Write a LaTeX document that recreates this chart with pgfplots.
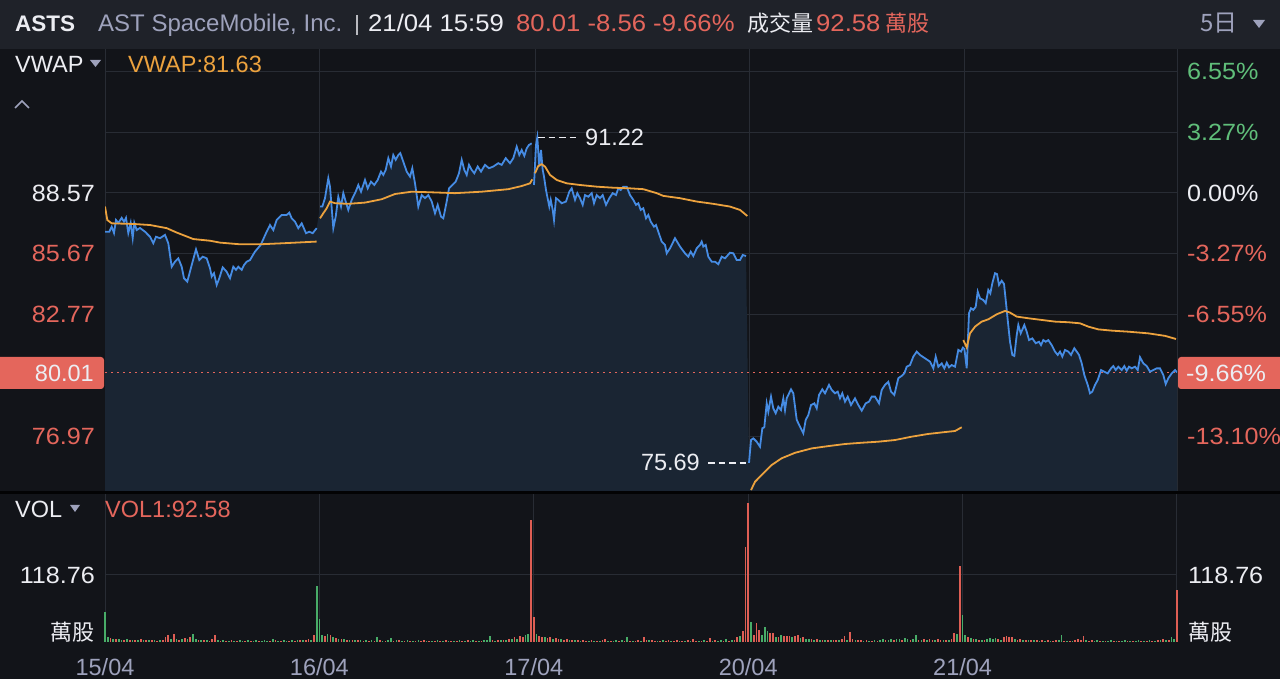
\documentclass[border=0pt]{standalone}
\usepackage{pgfplots}
\pgfplotsset{compat=1.18}
\usepackage{pgfplotstable}
\usepackage{fontspec}
\setmainfont{Liberation Sans}
\newfontfamily\numfont{Liberation Sans}[FakeStretch=1.07]
\newfontfamily\cjk{Noto Sans CJK TC}
\definecolor{bgcol}{RGB}{18,20,25}
\definecolor{hdrcol}{RGB}{31,34,41}
\definecolor{gridcol}{RGB}{40,44,52}
\definecolor{linecol}{RGB}{70,140,228}
\definecolor{fillcol}{RGB}{26,37,51}
\definecolor{vwapcol}{RGB}{236,162,62}
\definecolor{upcol}{RGB}{96,190,122}
\definecolor{dncol}{RGB}{228,102,92}
\definecolor{txtcol}{RGB}{236,237,242}
\definecolor{graycol}{RGB}{158,162,188}
\definecolor{volup}{RGB}{72,172,104}
\definecolor{voldn}{RGB}{222,94,84}
\newcommand\fs{\fontsize{23.5bp}{28bp}\selectfont}
\newcommand\hs{\fontsize{24bp}{28bp}\selectfont}
\newcommand\cs{\fontsize{22bp}{26bp}\selectfont}

\pgfplotstableread{
t p
0 86.72
4.3 86.72
6.7 86.96
9 86.66
11 87.28
13.3 87.14
16.7 87.38
19 87.20
21 87.38
23.3 86.66
25.7 87.14
27.7 86.42
29.3 87.14
31.7 86.80
35 86.90
40 86.72
45 86.48
48.3 86.17
51 86.48
55 86.41
60 86.57
63.3 86.17
66.7 85.05
70 85.29
73.3 85.45
76.7 85.05
79 84.50
82.3 84.34
86.7 85.13
91 85.88
94.3 85.37
97.7 85.53
101.7 85.45
105 84.98
106.7 84.58
109 84.74
111.7 84.18
114.3 84.50
117.7 85.02
121.7 84.81
125 84.50
128.3 85.05
131 84.90
133.3 85.05
136.7 84.90
139 85.13
141.7 85.29
145 85.37
150 85.77
155.7 86.09
161 86.65
165 87.04
168.3 86.80
171.7 87.28
176.7 87.52
181.7 87.52
184.3 87.63
186.7 87.36
190 87.20
193.3 86.89
196.7 87.12
201 86.65
204.3 86.72
207.7 86.65
211.7 86.89
213 nan
215 87.92
217.3 87.92
220 88.32
223.3 89.27
225 88.87
228.3 86.89
230.7 87.44
233.3 88.39
236 87.92
238.3 88.56
240.7 88.16
243.3 87.76
246.7 88.24
250.7 88.63
253.3 88.95
256 88.63
260 89.19
262.7 88.79
266 89.11
269.3 88.95
272.7 89.19
276 89.59
278.3 89.43
280.7 89.67
283.3 90.23
286 89.83
288.3 90.38
290.7 90.15
293.3 90.38
295.3 90.47
298.3 90.06
301.7 89.59
305 89.35
307.3 89.75
310 89.03
313.3 87.92
316.7 88.47
320 88.32
323.3 88.47
326.7 88.16
330 87.60
332.7 88.00
336 87.44
338.3 87.36
341.7 88.16
344 88.79
347.3 88.95
350.7 89.11
354 89.51
356.7 90.15
359.3 89.67
361.7 89.43
364 89.91
366.7 89.67
369.3 89.51
372.7 89.83
376 89.59
380 89.91
384 89.75
388.3 89.83
393.3 89.99
396.7 89.91
400.7 90.23
405 89.99
408.3 90.23
411.7 90.78
414.3 90.38
416.7 90.62
419.3 90.34
421.7 90.70
424 90.86
426.7 90.94
428 nan
429 88.95
431 90.86
432.3 91.22
434.3 89.83
436 90.62
437.7 89.67
439 89.35
441 88.71
442.3 88.39
444.3 87.92
445.7 88.24
447.7 87.76
449 87.28
451 88.32
453.3 88.24
456.7 88.08
461 88.16
464.3 88.63
466.7 88.79
470 88.24
472.3 88.56
475 88.32
477.7 88.00
480 88.47
483.3 88.39
486.7 88.56
489 88.08
491.7 88.47
495 88.32
497.7 88.47
501 88.00
504.3 88.32
507.7 88.56
511 88.47
513.3 88.79
515.7 88.71
518.3 88.87
521.7 88.87
525 88.47
528.3 88.24
531 88.00
533.3 88.08
535.7 87.76
538.3 87.84
541 87.36
543.3 87.52
545.7 87.20
549 86.96
551 87.04
553.3 86.72
556.7 86.25
560 86.09
561.7 85.69
565 85.93
570 86.41
575 86.01
580 85.69
583.3 85.53
585.7 85.77
588.3 85.56
591.7 85.93
595 86.09
596.7 86.25
598.3 86.01
600.7 86.09
603.3 85.53
606.7 85.29
610 85.29
613.3 85.17
616.7 85.53
620 85.45
625 85.72
628.3 85.69
631.7 85.37
635 85.37
637.7 85.61
641 85.56
642.5 nan
644 75.69
646 76.78
648.3 76.86
651.7 76.70
655 76.46
657.3 77.34
659.3 77.39
661.7 78.53
663.3 78.13
666 78.85
668.3 78.29
670.7 78.06
673.3 78.37
676 78.21
678.3 78.77
680 78.21
681.7 78.77
683.3 78.93
686 79.20
688.3 79.01
691.7 77.74
695 77.42
698.3 77.10
700.7 77.74
703.3 77.97
706 78.45
709.3 78.53
711.7 78.29
714 78.93
717.3 79.20
720 79.01
724 79.41
726.7 79.17
730 79.01
732.7 79.09
735 78.77
737.3 79.01
740 78.61
742.7 78.85
746 78.45
750 78.77
753.3 78.45
756.7 78.18
760.7 78.53
764 78.61
766.7 78.85
770 78.85
774 78.53
776.7 79.17
780 79.41
783.3 79.56
786 79.09
789.3 78.93
793.3 79.73
796.7 79.84
799.3 79.96
801.7 80.28
805 80.36
808.3 80.76
811.7 81.00
815 80.84
820 80.68
825 80.52
828.3 80.20
830.7 80.76
833.3 80.28
836.7 80.44
839.3 80.20
841.7 80.47
844 80.25
846.7 80.36
850 80.28
853.3 81.08
856 81.00
858.3 81.23
858.8 nan
859.3 81.16
861.7 80.20
864 82.83
866 83.07
868.3 82.99
870.7 83.14
872.7 83.86
875 83.54
878.3 83.46
880.7 83.31
883.3 83.94
885.3 83.78
887.3 84.26
890 84.74
892 84.70
894 84.18
896.7 84.38
899 84.23
900.7 83.46
902.7 82.51
905 81.47
907.3 80.84
909.3 80.79
911.7 81.79
913.3 82.27
915.7 81.87
919.3 82.27
921.7 81.95
924 81.55
927.3 81.63
930.7 81.40
934 81.47
936 81.31
938.3 81.55
940.7 81.47
943.3 81.55
946.7 81.31
950 81.00
952.7 80.84
955 81.00
957.3 80.76
960 81.08
963.3 81.00
966 80.84
969.3 81.16
971.7 81.00
974 80.84
976.7 80.44
979.3 79.88
982.7 79.41
985 79.01
987.3 79.09
990 79.41
992.7 79.64
996 80.12
999.3 80.04
1002.7 79.96
1006 80.20
1008.3 80.31
1010.7 80.12
1013.3 80.28
1016.7 80.12
1019.3 80.31
1021.7 80.09
1024 80.28
1026.7 80.20
1030 80.28
1032.7 80.12
1035 80.73
1038.3 80.44
1041.7 80.31
1045 80.04
1048.3 80.12
1051.7 80.20
1055 80.20
1058.3 79.88
1060.7 79.45
1063.3 79.73
1066.7 79.96
1070 80.12
1072 80.01
}\bluetab

\pgfplotstableread{
t v
0 87.92
2.3 87.28
6.7 87.12
28.3 87.09
45 87.04
61.7 86.89
71.7 86.68
88.3 86.37
105 86.29
115 86.20
135 86.12
155 86.12
178.3 86.17
211.7 86.25
213 nan
215 87.36
218.3 87.60
221.7 87.84
225 88.16
230 88.08
243.3 88.05
260 88.11
276.7 88.27
290 88.52
306.7 88.63
326.7 88.60
350 88.56
376.7 88.63
403.3 88.75
416.7 88.90
425 89.03
427.3 89.22
428.5 nan
430 89.51
433.3 89.86
436.7 89.94
440 89.83
445 89.43
451.7 89.19
461.7 89.03
475 88.95
491.7 88.87
508.3 88.82
525 88.79
538.3 88.75
551.7 88.56
558.3 88.43
575 88.32
591.7 88.16
608.3 88.05
625 87.92
635 87.76
642.3 87.47
643.5 nan
646 74.39
650 74.79
655 75.03
660 75.27
666.7 75.59
676.7 75.91
690 76.17
706.7 76.38
723.3 76.49
740 76.59
756.7 76.65
773.3 76.70
790 76.78
806.7 76.94
823.3 77.07
840 77.16
850 77.21
856.7 77.39
857.5 nan
858.3 81.55
861.7 81.20
865 81.87
870 82.19
876.7 82.43
883.3 82.54
891.7 82.78
900 82.94
905 82.86
911.7 82.67
923.3 82.59
936.7 82.51
950 82.43
963.3 82.40
975 82.35
983.3 82.19
993.3 82.06
1006.7 82.00
1023.3 81.95
1043.3 81.87
1060 81.75
1071 81.60
}\vwaptab

\pgfplotstableread[row sep=\\]{
k r g\\
0 0 53\\1 0 9\\2 7 0\\3 0 6\\4 5 0\\5 0 6\\6 0 4\\7 3 0\\8 0 5\\9 4 0\\
10 0 3\\11 4 0\\12 0 3\\13 5 0\\14 0 4\\15 3 0\\16 0 3\\17 4 0\\18 0 3\\19 2 0\\
20 0 3\\21 4 0\\22 8 0\\23 12 0\\24 0 6\\25 14 0\\26 0 5\\27 4 0\\28 0 6\\29 7 0\\
30 0 5\\31 9 0\\32 0 15\\33 0 5\\34 4 0\\35 0 3\\36 3 0\\37 0 4\\38 2 0\\39 5 0\\
40 12 0\\41 0 3\\42 2 0\\43 0 3\\44 2 0\\45 0 2\\46 3 0\\47 0 2\\48 2 0\\49 0 3\\
50 0 2\\51 2 0\\52 0 3\\53 2 0\\54 0 2\\55 0 3\\56 2 0\\57 0 2\\58 0 3\\59 0 2\\
60 2 0\\61 0 6\\62 3 0\\63 0 2\\64 2 0\\65 0 3\\66 0 2\\67 2 0\\68 0 3\\69 2 0\\
70 0 3\\71 3 0\\72 0 4\\73 3 0\\74 5 0\\75 0 4\\76 12 0\\77 0 99\\
78 0 41\\79 0 12\\80 10 0\\81 0 14\\82 12 0\\83 0 9\\84 7 0\\85 0 6\\86 5 0\\87 0 5\\
88 4 0\\89 0 4\\90 3 0\\91 0 3\\92 4 0\\93 0 3\\94 2 0\\95 0 3\\96 2 0\\97 0 3\\
98 2 0\\99 0 9\\100 3 0\\101 0 2\\102 2 0\\103 0 3\\104 0 7\\105 2 0\\106 0 3\\107 3 0\\
108 0 2\\109 2 0\\110 0 3\\111 2 0\\112 0 2\\113 2 0\\114 0 3\\115 2 0\\116 3 0\\117 0 2\\
118 2 0\\119 0 2\\120 2 0\\121 0 3\\122 2 0\\123 0 2\\124 3 0\\125 0 2\\126 2 0\\127 0 2\\
128 2 0\\129 0 3\\130 2 0\\131 0 2\\132 3 0\\133 0 2\\134 0 3\\135 2 0\\136 0 2\\137 2 0\\
138 0 3\\139 0 4\\140 0 10\\141 3 0\\142 0 2\\143 3 0\\144 0 3\\145 4 0\\146 0 4\\147 5 0\\
148 0 6\\149 8 0\\150 0 6\\151 10 0\\152 8 0\\153 0 12\\154 0 14\\155 216 0\\
156 44 0\\157 0 14\\158 10 0\\159 9 0\\160 0 8\\161 7 0\\162 8 0\\163 0 6\\164 7 0\\165 5 0\\
166 0 5\\167 4 0\\168 5 0\\169 0 3\\170 4 0\\171 0 3\\172 3 0\\173 0 2\\174 3 0\\175 2 0\\
176 0 2\\177 3 0\\178 0 2\\179 2 0\\180 0 2\\181 3 0\\182 6 0\\183 0 2\\184 2 0\\185 0 2\\
186 0 3\\187 2 0\\188 0 3\\189 2 0\\190 0 8\\191 2 0\\192 0 2\\193 2 0\\194 3 0\\195 0 2\\
196 8 0\\197 3 0\\198 0 3\\199 3 0\\200 2 0\\201 0 2\\202 2 0\\203 0 3\\204 2 0\\205 3 0\\
206 0 2\\207 2 0\\208 3 0\\209 0 2\\210 2 0\\211 0 2\\212 3 0\\213 0 2\\214 5 0\\215 2 0\\
216 0 2\\217 2 0\\218 0 3\\219 2 0\\220 7 0\\221 0 2\\222 3 0\\223 0 2\\224 0 3\\225 2 0\\
226 0 5\\227 2 0\\228 0 3\\229 3 0\\230 8 0\\231 0 10\\232 20 0\\233 168 0\\
234 246 0\\235 0 35\\236 12 0\\237 34 0\\238 21 0\\239 0 12\\240 0 26\\241 0 20\\242 16 0\\243 16 0\\
244 0 8\\245 9 0\\246 0 12\\247 10 0\\248 11 0\\249 10 0\\250 0 9\\251 11 0\\252 12 0\\253 0 7\\
254 8 0\\255 0 6\\256 0 6\\257 5 0\\258 0 4\\259 5 0\\260 0 4\\261 4 0\\262 0 3\\263 4 0\\
264 0 3\\265 3 0\\266 4 0\\267 0 3\\268 5 0\\269 10 0\\270 0 3\\271 17 0\\272 5 0\\273 0 3\\
274 3 0\\275 4 0\\276 0 2\\277 3 0\\278 0 2\\279 2 0\\280 0 3\\281 2 0\\282 0 4\\283 0 5\\
284 3 0\\285 0 4\\286 0 5\\287 3 0\\288 0 6\\289 0 5\\290 4 0\\291 0 7\\292 0 6\\293 4 0\\
294 0 5\\295 0 12\\296 4 0\\297 0 3\\298 5 0\\299 0 3\\300 5 0\\301 4 0\\302 0 3\\303 6 0\\
304 4 0\\305 0 3\\306 4 0\\307 0 3\\308 5 0\\309 16 0\\310 0 14\\311 135 0\\
312 0 48\\313 0 12\\314 8 0\\315 0 7\\316 6 0\\317 0 5\\318 4 0\\319 0 4\\320 4 0\\321 0 5\\
322 0 7\\323 0 6\\324 0 7\\325 5 0\\326 0 4\\327 9 0\\328 10 0\\329 8 0\\330 9 0\\331 0 5\\
332 4 0\\333 5 0\\334 0 3\\335 4 0\\336 0 3\\337 3 0\\338 0 3\\339 3 0\\340 0 2\\341 3 0\\
342 0 2\\343 3 0\\344 0 2\\345 2 0\\346 3 0\\347 0 3\\348 0 12\\349 2 0\\350 0 2\\351 2 0\\
352 0 2\\353 3 0\\354 5 0\\355 4 0\\356 11 0\\357 0 3\\358 2 0\\359 3 0\\360 0 2\\361 0 3\\
362 2 0\\363 0 2\\364 2 0\\365 0 2\\366 0 3\\367 2 0\\368 0 2\\369 2 0\\370 0 2\\371 0 3\\
372 2 0\\373 0 2\\374 2 0\\375 0 2\\376 0 3\\377 2 0\\378 0 2\\379 2 0\\380 0 3\\381 2 0\\
382 0 2\\383 3 0\\384 0 3\\385 6 0\\386 0 4\\387 3 0\\388 0 8\\389 0 6\\390 92.58 0\\
}\voltab

\pgfplotsset{
  pricebase/.style={at={(105bp,187bp)}, anchor=south west, width=1072bp, height=443bp,
    scale only axis, xmin=0, xmax=1072, ymin=74.30, ymax=95.44,
    axis line style={draw=none}, major tick length=0pt,
    ytick={76.97,82.77,85.67,88.57,91.47,94.37},
    xtick={0,214,430,644,859,1072}, xticklabels={},
    tick label style={font=\fs\numfont, inner sep=0pt}},
  volbase/.style={at={(105bp,37bp)}, anchor=south west, width=1072bp, height=148bp,
    scale only axis, xmin=0, xmax=390, ymin=0, ymax=262.3,
    axis line style={draw=none}, major tick length=0pt,
    ytick={118.76}, yticklabels={118.76},
    tick label style={font=\fs\numfont, inner sep=0pt, txtcol}},
}

\begin{document}
\begin{tikzpicture}[x=1bp,y=1bp]
\fill[bgcol] (0,0) rectangle (1280,679);
\useasboundingbox (0,0) rectangle (1280,679);
\fill[hdrcol] (0,630) rectangle (1280,679);

% price panel
\begin{axis}[pricebase, grid=major, grid style={gridcol, line width=1bp},
  yticklabels={\textcolor{dncol}{76.97},\textcolor{dncol}{82.77},\textcolor{dncol}{85.67},\textcolor{txtcol}{88.57},{},{}},
  yticklabel style={xshift=-10bp}]
\addplot[fill=fillcol, draw=none, unbounded coords=discard] table[x=t,y=p]{\bluetab} \closedcycle;
\addplot[dncol, line width=1.6bp, dash pattern=on 1.6bp off 4.4bp] coordinates {(0,80.01) (1072,80.01)};
\addplot[linecol, line width=1.8bp, unbounded coords=jump] table[x=t,y=p]{\bluetab};
\addplot[vwapcol, line width=1.8bp, unbounded coords=jump] table[x=t,y=v]{\vwaptab};
\draw[txtcol, line width=1.6bp, dash pattern=on 6.5bp off 4bp] (axis cs:433,91.22) -- (axis cs:472,91.22);
\node[anchor=west, txtcol, font=\fs, inner sep=0pt] at (axis cs:480,91.22) {91.22};
\draw[txtcol, line width=1.6bp, dash pattern=on 6.5bp off 4bp] (axis cs:603,75.69) -- (axis cs:642,75.69);
\node[anchor=east, txtcol, font=\fs, inner sep=0pt] at (axis cs:595,75.69) {75.69};
\end{axis}

\begin{axis}[pricebase, yticklabel pos=right,
  yticklabels={\textcolor{dncol}{-13.10\%},\textcolor{dncol}{-6.55\%},\textcolor{dncol}{-3.27\%},\textcolor{txtcol}{0.00\%},\textcolor{upcol}{3.27\%},\textcolor{upcol}{6.55\%}},
  yticklabel style={xshift=10bp}]
\end{axis}

% volume panel
\begin{axis}[volbase, clip=false, grid=major, grid style={gridcol, line width=1bp},
  xtick={0,78,156,234,312,390}, xticklabels={15/04,16/04,17/04,20/04,21/04,{}},
  xticklabel style={graycol, font=\fs, yshift=-16bp}, yticklabel style={xshift=-10bp}]
\addplot[ycomb, voldn, line width=1.7bp] table[x=k,y=r]{\voltab};
\addplot[ycomb, volup, line width=1.7bp] table[x=k,y=g]{\voltab};
\end{axis}
\begin{axis}[volbase, yticklabel pos=right, xtick=\empty, yticklabel style={xshift=11bp}]
\end{axis}

% separator
\fill[black!85!bgcol] (0,185) rectangle (1280,187.5);

% header
\node[anchor=base west, inner sep=0pt, txtcol, font=\fontsize{22.5bp}{26bp}\selectfont\bfseries] at (15,647) {ASTS};
\node[anchor=base west, inner sep=0pt, graycol, font=\hs] at (98,647) {AST SpaceMobile, Inc.};
\draw[txtcol!75!hdrcol, line width=1.3bp] (357,664) -- (357,644);
\node[anchor=base west, inner sep=0pt, txtcol, font=\hs\numfont] at (368,647) {21/04 15:59};
\node[anchor=base west, inner sep=0pt, dncol, font=\hs\numfont] at (516,647) {80.01 -8.56 -9.66\%};
\node[anchor=base west, inner sep=0pt, txtcol, font=\cs\cjk] at (747,647) {成交量};
\node[anchor=base west, inner sep=0pt, dncol, font=\hs\numfont] at (816,647) {92.58};
\node[anchor=base west, inner sep=0pt, dncol, font=\cs\cjk] at (885,647) {萬股};
\node[anchor=base west, inner sep=0pt, graycol, font=\hs\cjk] at (1200,647) {5日};
\fill[graycol] (1253,659) -- (1265,659) -- (1259,651) -- cycle;

% VWAP row
\node[anchor=base west, inner sep=0pt, txtcol, font=\fs] at (15,606) {VWAP};
\fill[graycol] (90,619) -- (101,619) -- (95.5,612) -- cycle;
\node[anchor=base west, inner sep=0pt, vwapcol, font=\fs] at (128,606) {VWAP:81.63};
\draw[graycol, line width=1.5bp] (15,571) -- (22,578) -- (29,571);

% VOL row
\node[anchor=base west, inner sep=0pt, txtcol, font=\fs] at (15,161) {VOL};
\fill[graycol] (70,174) -- (80,174) -- (75,167) -- cycle;
\node[anchor=base west, inner sep=0pt, dncol, font=\fs] at (105,161) {VOL1:92.58};
\node[anchor=base east, inner sep=0pt, txtcol, font=\cs\cjk] at (95,38) {萬股};
\node[anchor=base west, inner sep=0pt, txtcol, font=\cs\cjk] at (1188,38) {萬股};

% current price boxes
\fill[dncol, rounded corners=3bp] (-10,290) rectangle (104,322);
\node[anchor=east, inner sep=0pt, txtcol, font=\fs] at (94,306) {80.01};
\fill[dncol, rounded corners=3bp] (1178,290) rectangle (1290,322);
\node[anchor=west, inner sep=0pt, txtcol, font=\fs\numfont] at (1186,306) {-9.66\%};
\end{tikzpicture}
\end{document}
